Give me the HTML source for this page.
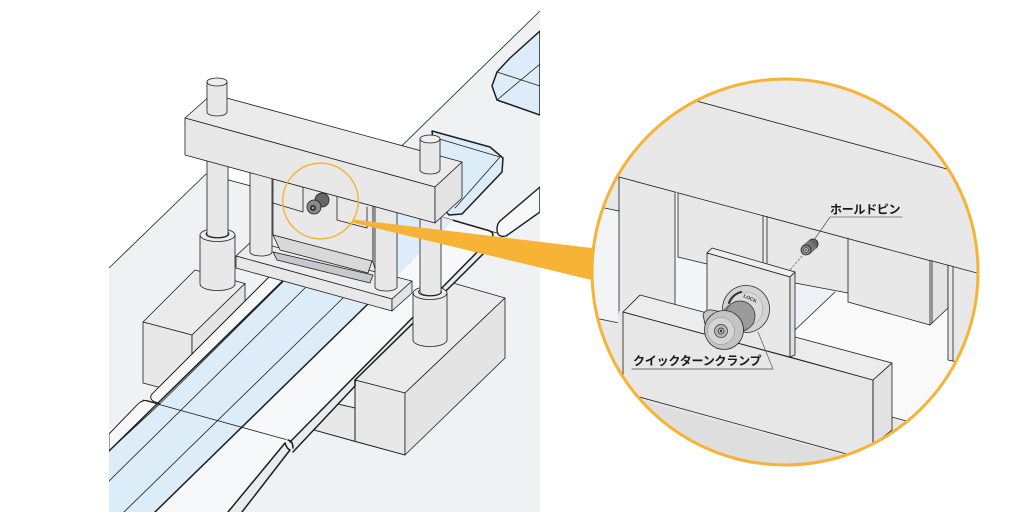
<!DOCTYPE html>
<html><head><meta charset="utf-8">
<style>
html,body{margin:0;padding:0;background:#fff;}
svg{display:block;}
text{font-family:"Liberation Sans","Noto Sans CJK JP",sans-serif;font-weight:bold;}
</style></head><body>
<svg width="1024" height="512" viewBox="0 0 1024 512" xmlns="http://www.w3.org/2000/svg">
<defs>
<clipPath id="lp"><rect x="109" y="0" width="431" height="512"/></clipPath>
<clipPath id="bc"><circle cx="785" cy="272" r="192"/></clipPath>
</defs>
<rect width="1024" height="512" fill="#fff"/>

<g clip-path="url(#lp)" stroke="#1e1e1e" stroke-width="0.8" stroke-linejoin="round" stroke-linecap="round">
  <!-- ground -->
  <polygon points="109,512 109,268 206,174 337,209 540,11 540,512" fill="#eff1f3" stroke="none"/>
  <polyline points="109,268 206,174 337,209 540,11" fill="none"/>

  <!-- trays -->
  <polygon points="540,31 510,58 497,72 492,86 497,100 540,115" fill="#dcecf8" stroke-width="1.5"/>
  <line x1="497" y1="72" x2="540" y2="86"/>
  <line x1="497" y1="100" x2="540" y2="64"/>
  <polygon points="432,131 490,147 503,158 502,172 462,214 449,215 440,205" fill="#dcecf8" stroke-width="1.5"/>
  <polyline points="436,138 500,157 455,208" fill="none"/>
  <polygon points="398,240 405,238 412,246 411,262 405,272 398,270" fill="#dcecf8" stroke-width="1.3"/>

  <!-- far rail -->
  <path d="M500,221 L540,187 L540,212 L506,236 Q497,238 497,229 Q497,224 500,221 Z" fill="#f7f8fa" stroke-width="1.4"/>
  <line x1="442" y1="217" x2="497" y2="233"/>

  <!-- right block -->
  <polygon points="355,380 453,283 505,298 405,393" fill="#ebebeb"/>
  <polygon points="355,380 405,393 405,455 355,441.5" fill="#e8e8e8"/>
  <polygon points="405,393 505,298 505,358 405,455" fill="#e4e4e4"/>
  <polygon points="314,430 338,404 355,408 355,441.5" fill="#e8e8e8"/>
  <line x1="314" y1="430" x2="405" y2="455"/>

  <!-- left block -->
  <polygon points="143,322 195,270 245,283.5 192,335" fill="#ebebeb"/>
  <polygon points="143,322 192,335 192,396 143,383" fill="#e8e8e8"/>
  <polygon points="192,335 245,283.5 245,340 192,396" fill="#e4e4e4"/>

  <!-- belt -->
  <polygon points="109,451 369.9,196 453.5,220.4 155,512 109,512" fill="#dcecf8" stroke="none"/>
  <line x1="108" y1="482" x2="305" y2="288"/>
  <line x1="124" y1="512" x2="343" y2="298"/>

  <!-- rails -->
  <path d="M109,434 L138,404 Q142,400 147,400.5 L159.7,403.9 L109,451 Z" fill="#f7f8fa"/>
  <path d="M159.7,403.9 L153,401 Q149,398 152,394 L291,255 L310,255 Z" fill="#f7f8fa"/>
  <path d="M241.6,427.4 L453.5,220.4 L488,230.4 Q495,232.5 492,237 L290,442 Z" fill="#f7f8fa" stroke="none"/>
  <path d="M290,442 L492,237 L497,240 L453,285 L355,380 L355,386 L293,452 Z" fill="#e9ebee" stroke="none"/>
  <path d="M241.6,427.4 L282,438.6 Q286,440 285,443 L228,512 L155,512 Z" fill="#f7f8fa" stroke="none"/>
  <path d="M285,443 Q287,449 290,450 L242,512 L228,512 Z" fill="#e9ebee" stroke="none"/>
  <line x1="143" y1="400" x2="286" y2="439.5"/>
  <line x1="338" y1="404" x2="355" y2="408"/>
  <line x1="355" y1="380" x2="355" y2="441.5"/>
  <g stroke-width="1.5" fill="none">
    <line x1="109" y1="451" x2="300" y2="264"/>
    <line x1="155" y1="512" x2="372" y2="300"/>
    <line x1="285" y1="443" x2="228" y2="512"/>
    <path d="M285,443 Q287,449 290,450 L242,512"/>
    <path d="M290,442 L492,237 Q495,232.5 488,230.4 L453.5,220.4"/>
    <polyline points="293,452 355,386 355,380 453,284 497,240"/>
    <path d="M288,440 Q293,441 293,448"/>
  </g>
  <path d="M109,434 L138,404 Q142,400 147,400.5" fill="none"/>
  <path d="M159.7,403.9 L153,401 Q149,398 152,394 L291,255" fill="none"/>

  <!-- left collar + column -->
  <path d="M200,235 L200,284 A17.5,6.5 0 0 0 235,284 L235,235 Z" fill="#e8e8e8"/>
  <ellipse cx="217.5" cy="235" rx="17.5" ry="6.5" fill="#ececec"/>
  <ellipse cx="217.5" cy="234" rx="11.5" ry="4" fill="#e4e4e4"/>
  <path d="M207,150 L207,234 A10.5,3.5 0 0 0 228,234 L228,150 Z" fill="#e8e8e8"/>

  <!-- right collar + column -->
  <path d="M413,293 L413,340 A17,6.5 0 0 0 447,340 L447,293 Z" fill="#e8e8e8"/>
  <ellipse cx="430" cy="293" rx="17" ry="6.5" fill="#ececec"/>
  <ellipse cx="430" cy="292" rx="11.5" ry="4" fill="#e4e4e4"/>
  <path d="M420,200 L420,292 A10.5,3.5 0 0 0 441,292 L441,200 Z" fill="#e8e8e8"/>

  <!-- plate -->
  <polygon points="236,256 252,241 412,281 392,299" fill="#ececec"/>
  <polygon points="236,256 392,299 392,311 236,268" fill="#e8e8e8"/>
  <polygon points="392,299 412,281 412,293 392,311" fill="#e3e3e3"/>
  <polygon points="273,252 373,275 370,283 277,260" fill="#c6c9cc"/>

  <!-- punch -->
  <polygon points="273,179 373,206 373,262 273,235" fill="#e8e8e8"/>
  <polygon points="373,206 376,205 376,272 373,262" fill="#dadada"/>
  <polygon points="273,235 372,261 368,273 280,250" fill="#d9d9d9"/>
  <polyline points="273,203 303,212 303,187" fill="none"/>
  <polyline points="337,197 337,220 367,228 367,207" fill="none"/>
  <!-- small clamp -->
  <circle cx="322" cy="200" r="7" fill="#666" stroke="#222"/>
  <circle cx="314" cy="207" r="7" fill="#8a8a8a" stroke="#222"/>
  <circle cx="313" cy="208" r="3" fill="#333" stroke="none"/>
  <circle cx="313" cy="208" r="1.2" fill="#aaa" stroke="none"/>

  <!-- inner columns -->
  <path d="M250,165 L250,252 A11,4 0 0 0 272,252 L272,165 Z" fill="#e8e8e8"/>
  <path d="M375,195 L375,287 A11,4 0 0 0 397,287 L397,195 Z" fill="#e8e8e8"/>

  <!-- crossbar -->
  <polygon points="185,118 212,94 462,162 435,187" fill="#ebebeb"/>
  <polygon points="185,118 435,187 435,223 185,155" fill="#e8e8e8"/>
  <polygon points="435,187 462,162 462,198 435,223" fill="#e3e3e3"/>

  <!-- pins -->
  <path d="M207,82 L207,112 A10,4 0 0 0 227,112 L227,82 Z" fill="#e8e8e8"/>
  <ellipse cx="217" cy="82" rx="10" ry="4" fill="#eeeeee"/>
  <path d="M420,139 L420,170 A10,4 0 0 0 440,170 L440,139 Z" fill="#e8e8e8"/>
  <ellipse cx="430" cy="139" rx="10" ry="4" fill="#eeeeee"/>

  <!-- small orange circle -->
  <circle cx="320.5" cy="201" r="37.8" fill="none" stroke="#f6b336" stroke-width="1.5"/>
</g>

<!-- cone -->
<polygon points="352.7,219.4 600,249 600,282 351,222.2" fill="#f6b336"/>

<!-- big circle -->
<circle cx="785" cy="272" r="192" fill="#e8e8e8"/>
<g clip-path="url(#bc)" stroke="#1e1e1e" stroke-width="0.8" stroke-linejoin="round" stroke-linecap="round">
  <polygon points="585,40 990,40 990,179 585,70.7" fill="#ebebeb" stroke="none"/>
  <line x1="585" y1="70.7" x2="990" y2="180.7"/>
  <line x1="619" y1="177" x2="990" y2="276.8"/>

  <polygon points="585,204 619,211 619,323 585,316" fill="#f2f4f6" stroke="none"/>
  <line x1="585" y1="204" x2="619" y2="211"/>
  <line x1="585" y1="316" x2="619" y2="323"/>
  <line x1="619" y1="177" x2="619" y2="470"/>

  <polygon points="675,192 678,193 678,257 707,264 707,313 675,304.5" fill="#f3f5f7" stroke="none"/>
  <line x1="675" y1="192" x2="675" y2="305"/>
  <line x1="678" y1="193" x2="678" y2="257"/>
  <line x1="678" y1="257" x2="707" y2="264"/>
  <line x1="763" y1="215.5" x2="763" y2="262"/>
  <line x1="767" y1="216.5" x2="767" y2="263"/>

  <!-- white under punch -->
  <polygon points="795,283 848,293 848,302 930,325 948,308 948,360 990,369 990,446 892,418 892,363 795,337" fill="#f9f9f9" stroke="none"/>
  <polygon points="795,283 835,292 795,330" fill="#eef2f6" stroke="none"/>
  <line x1="835" y1="292" x2="795" y2="330"/>
  <line x1="795" y1="283" x2="848" y2="293"/>
  <line x1="848" y1="238.3" x2="848" y2="302"/>
  <line x1="848" y1="302" x2="930" y2="325"/>
  <polygon points="930,260.4 948,265.2 948,308 930,325" fill="#e3e3e3"/>
  <line x1="932" y1="261" x2="932" y2="323"/>
  <polygon points="948,265.2 990,276.5 990,369 948,360" fill="#e8e8e8"/>
  <line x1="953" y1="266.5" x2="953" y2="361"/>
  <line x1="892" y1="417" x2="990" y2="445"/>

  <!-- lower block -->
  <polygon points="619,311 873,380 873,480 600,480" fill="#e7e7e7" stroke="none"/>
  <polygon points="600,389 880,465 880,480 600,480" fill="#dedede" stroke="none"/>
  <line x1="630" y1="394.4" x2="880" y2="463.2"/>
  <polygon points="623,312 640,295 707,313 707,334.7" fill="#ececec"/>
  <line x1="623" y1="312" x2="623" y2="398"/>
  <line x1="623" y1="312" x2="873" y2="380"/>
  <polygon points="795,337 892,363 873,380 790,357" fill="#ececec"/>
  <polygon points="873,380 892,363 892,430 873,445" fill="#e2e2e2"/>
  <line x1="873" y1="380" x2="873" y2="450"/>

  <!-- clamp plate -->
  <polygon points="707,253 712,248 795,272 790,277" fill="#efefef"/>
  <polygon points="707,253 790,277 790,357 707,334.7" fill="#e8e8e8"/>
  <polygon points="790,277 795,272 795,355 790,357" fill="#e0e0e0"/>

  <!-- quick turn clamp -->
  <circle cx="746" cy="309" r="23.5" fill="#d3d3d3" stroke="#2a2a2a"/>
  <circle cx="746" cy="309" r="17" fill="#dadada" stroke="#9a9a9a" stroke-width="0.5"/>
  <path d="M729,303 A18,18 0 0 1 741,292" stroke="#333" stroke-width="2.2" fill="none"/>
  <text x="743" y="297" font-size="5" fill="#333" stroke="none" transform="rotate(25 743 297)">LOCK</text>
  <polygon points="715.9,315.9 727.9,304.9 750.1,327.1 738.1,338.1" fill="#9a9a9a" stroke="none"/>
  <circle cx="740" cy="316" r="15" fill="#9a9a9a" stroke="#2a2a2a" stroke-width="0.7"/>
  <path d="M705,324 L703,315 Q705,309 712,310 L727,313 Z" fill="#c4c4c4" stroke="#2a2a2a"/>
  <circle cx="724" cy="330" r="19.5" fill="#c4c4c4" stroke="#2a2a2a"/>
  <circle cx="721" cy="331" r="13.5" fill="#d4d4d4" stroke="#888" stroke-width="0.5"/>
  <circle cx="721" cy="331" r="6.5" fill="#b5b5b5" stroke="#333" stroke-width="0.7"/>
  <circle cx="721" cy="331" r="3" fill="none" stroke="#333" stroke-width="0.7"/>
  <circle cx="721" cy="331" r="1.2" fill="#333" stroke="none"/>

  <!-- hold pin -->
  <line x1="802" y1="256" x2="789" y2="271" stroke="#555" stroke-width="0.7" stroke-dasharray="2,2"/>
  <circle cx="813" cy="244" r="5" fill="#666" stroke="#222"/>
  <polygon points="809,240 817,248 810,254 802,246" fill="#777" stroke="none"/>
  <circle cx="806" cy="250" r="5" fill="#8a8a8a" stroke="#222"/>
  <circle cx="806" cy="250" r="2.3" fill="#ccc" stroke="#222" stroke-width="0.6"/>
  <circle cx="806" cy="250" r="0.9" fill="#222" stroke="none"/>

  <!-- leaders -->
  <line x1="814" y1="240" x2="830" y2="217" stroke="#555" stroke-width="0.7"/>
  <line x1="830" y1="217" x2="902" y2="217" stroke="#888" stroke-width="1.1"/>
  <line x1="758" y1="332" x2="773" y2="369" stroke="#555" stroke-width="0.7"/>
  <line x1="632" y1="369" x2="773" y2="369" stroke="#888" stroke-width="1.2"/>
  <text x="830" y="213.5" font-size="12" fill="#1a1a1a" stroke="none" letter-spacing="-0.3">ホールドピン</text>
  <text x="633" y="365" font-size="12" fill="#1a1a1a" stroke="none" letter-spacing="-0.2">クイックターンクランプ</text>
</g>
<circle cx="785" cy="272" r="193" fill="none" stroke="#f6b336" stroke-width="3"/>
</svg>
</body></html>
